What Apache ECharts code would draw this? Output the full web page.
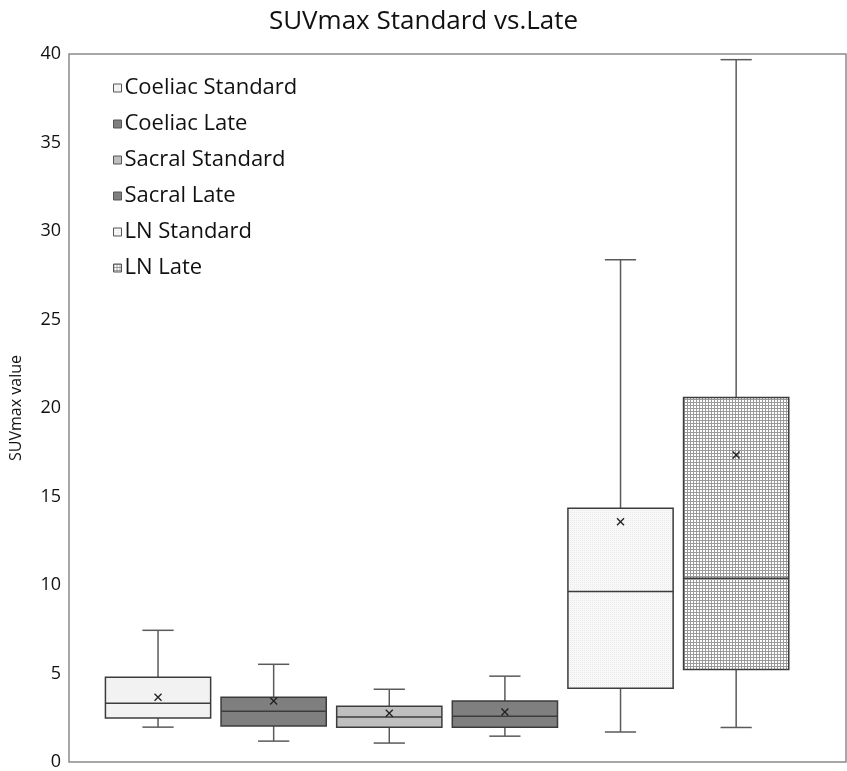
<!DOCTYPE html>
<html>
<head>
<meta charset="utf-8">
<script src="https://cdn.jsdelivr.net/npm/echarts@6/dist/echarts.min.js"></script>
<style>
  html, body { margin: 0; padding: 0; background: #fff; }
  #chart { width: 847px; height: 771px; }
</style>
</head>
<body>
<div id="chart"></div>
<script>
const groups = ['Coeliac Standard', 'Coeliac Late', 'Sacral Standard', 'Sacral Late', 'LN Standard', 'LN Late']
const whiskerLow = [1.97, 1.18, 1.07, 1.46, 1.69, 1.95]
const quartile1 = [2.48, 2.03, 1.97, 1.97, 4.17, 5.22]
const medians = [3.32, 2.87, 2.54, 2.59, 9.63, 10.38]
const quartile3 = [4.79, 3.66, 3.15, 3.44, 14.33, 20.6]
const whiskerHigh = [7.44, 5.52, 4.11, 4.85, 28.38, 39.68]
const means = [3.66, 3.44, 2.76, 2.82, 13.58, 17.34]
const yTicks = [0, 5, 10, 15, 20, 25, 30, 35, 40]

function makePattern (size, draw) {
  const c = document.createElement('canvas')
  c.width = size
  c.height = size
  const ctx = c.getContext('2d')
  draw(ctx)
  return { image: c, repeat: 'repeat' }
}

// light speckle for LN Standard, fine grid for LN Late
const lightDots = makePattern(2, ctx => {
  ctx.fillStyle = '#f8f8f8'
  ctx.fillRect(0, 0, 2, 2)
  ctx.fillStyle = '#ebebeb'
  ctx.fillRect(0, 0, 1, 1)
})
const gridDots = makePattern(3, ctx => {
  ctx.fillStyle = '#ffffff'
  ctx.fillRect(0, 0, 3, 3)
  ctx.fillStyle = '#9a9a9a'
  ctx.fillRect(0, 0, 3, 1)
  ctx.fillRect(0, 0, 1, 3)
})

const fills = ['#f2f2f2', '#7f7f7f', '#bfbfbf', '#7f7f7f', lightDots, gridDots]

function renderBox (params, api) {
  const x = api.value(0)
  const lo = api.coord([x, api.value(1)])
  const q1 = api.coord([x, api.value(2)])
  const med = api.coord([x, api.value(3)])
  const q3 = api.coord([x, api.value(4)])
  const hi = api.coord([x, api.value(5)])
  const mean = api.coord([x, api.value(6)])
  const band = api.size([1, 0])[0]
  const half = band * 0.455
  const cap = band * 0.135
  const cx = lo[0]
  const lineStyle = { stroke: '#5a5a5a', lineWidth: 1.5 }
  const boxStroke = { stroke: '#3c3c3c', lineWidth: 1.5 }
  const m = 3.5
  return {
    type: 'group',
    children: [
      { type: 'line', shape: { x1: cx, y1: lo[1], x2: cx, y2: q1[1] }, style: lineStyle },
      { type: 'line', shape: { x1: cx, y1: q3[1], x2: cx, y2: hi[1] }, style: lineStyle },
      { type: 'line', shape: { x1: cx - cap, y1: lo[1], x2: cx + cap, y2: lo[1] }, style: lineStyle },
      { type: 'line', shape: { x1: cx - cap, y1: hi[1], x2: cx + cap, y2: hi[1] }, style: lineStyle },
      {
        type: 'rect',
        shape: { x: cx - half, y: q3[1], width: half * 2, height: q1[1] - q3[1] },
        style: Object.assign({ fill: fills[params.seriesIndex] }, boxStroke)
      },
      { type: 'line', shape: { x1: cx - half, y1: med[1], x2: cx + half, y2: med[1] }, style: boxStroke },
      { type: 'line', shape: { x1: mean[0] - m, y1: mean[1] - m, x2: mean[0] + m, y2: mean[1] + m }, style: { stroke: '#222', lineWidth: 1.4 } },
      { type: 'line', shape: { x1: mean[0] - m, y1: mean[1] + m, x2: mean[0] + m, y2: mean[1] - m }, style: { stroke: '#222', lineWidth: 1.4 } }
    ]
  }
}

const chart = echarts.init(document.getElementById('chart'))

const series = groups.map((name, i) => ({
  name,
  type: 'custom',
  renderItem: renderBox,
  itemStyle: { color: fills[i], borderColor: '#555', borderWidth: 1 },
  encode: { x: 0, y: [1, 2, 3, 4, 5, 6] },
  data: [[i + 1, whiskerLow[i], quartile1[i], medians[i], quartile3[i], whiskerHigh[i], means[i]]]
}))

const option = {
  animation: false,
  title: {
    text: 'SUVmax Standard vs.Late',
    left: 'center',
    top: 4,
    textStyle: { fontFamily: 'Open Sans', fontSize: 26, fontWeight: 'normal', color: '#111' }
  },
  legend: {
    orient: 'vertical',
    left: 108,
    top: 71,
    itemWidth: 8,
    itemHeight: 8,
    itemGap: 12,
    icon: 'rect',
    itemStyle: { borderColor: '#555', borderWidth: 1 },
    textStyle: { fontFamily: 'Open Sans', fontSize: 22, color: '#111', lineHeight: 24, padding: [0, 0, 0, -2] },
    data: groups
  },
  grid: {
    left: 69,
    right: 1,
    top: 54,
    bottom: 7,
    show: true,
    borderColor: '#8a8a8a',
    borderWidth: 1.5
  },
  xAxis: {
    type: 'value',
    min: 0.23,
    max: 6.95,
    show: false
  },
  yAxis: {
    type: 'value',
    min: yTicks[0],
    max: yTicks[yTicks.length - 1],
    interval: 5,
    name: 'SUVmax value',
    nameLocation: 'middle',
    nameGap: 45,
    nameTextStyle: { fontFamily: 'Open Sans', fontSize: 16, color: '#111' },
    axisLine: { show: false },
    axisTick: { show: false },
    splitLine: { show: false },
    axisLabel: { fontFamily: 'Open Sans', fontSize: 18, color: '#111', margin: 8 }
  },
  series
}

chart.setOption(option)
</script>
</body>
</html>
